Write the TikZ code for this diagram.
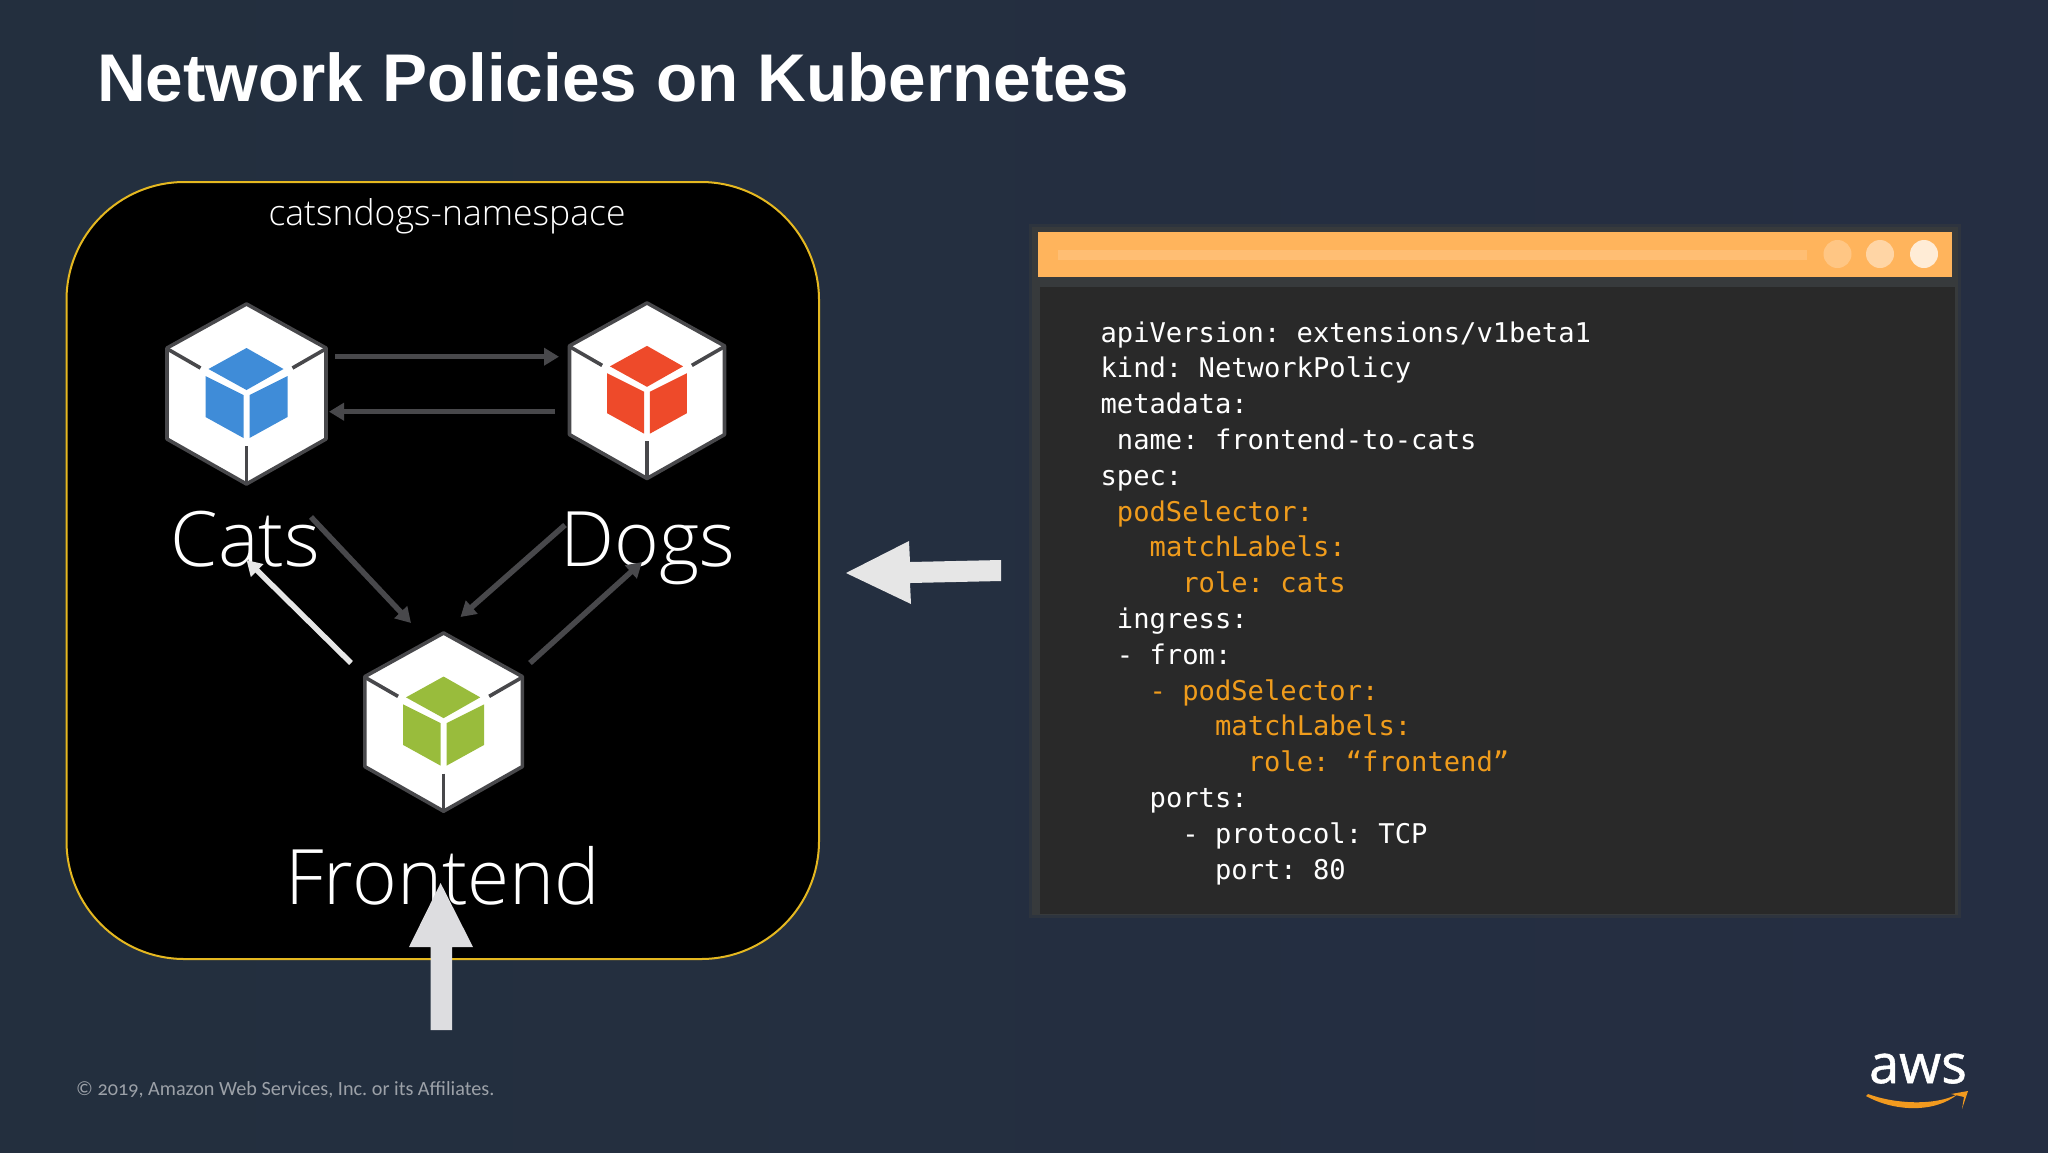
\documentclass[tikz,border=0pt]{standalone}
\usepackage{fontspec}
\setmainfont{Liberation Sans}
\frenchspacing
\newfontfamily\lightf{Open Sans}[UprightFont=* Light]
\newfontfamily\regf{Open Sans}[FakeBold=1]
\newfontfamily\footf{Carlito}[Numbers=OldStyle]
\newfontfamily\codef{DejaVu Sans Mono}
\usetikzlibrary{arrows.meta}
\definecolor{bgl}{HTML}{232F3E}
\definecolor{bgr}{HTML}{252E42}
\definecolor{edge}{HTML}{E5B820}
\definecolor{arrowgray}{HTML}{48484B}
\definecolor{arrowlight}{HTML}{E6E6E6}
\definecolor{bigarrow}{HTML}{DDDDE0}
\definecolor{halo}{HTML}{3A3C3C}
\definecolor{panel}{HTML}{292929}
\definecolor{barorange}{HTML}{FFB45C}
\definecolor{codeorange}{HTML}{F09C1C}
\definecolor{smile}{HTML}{F29A1F}
\definecolor{catblue}{HTML}{3F8CD8}
\definecolor{dogred}{HTML}{EE4A2A}
\definecolor{frontgreen}{HTML}{99BC3C}
\tikzset{
  conn/.style={line width=5.5pt,draw=arrowgray,-{Triangle[length=15pt,width=17pt]}},
  connlight/.style={line width=5.5pt,draw=arrowlight,-{Triangle[length=15pt,width=17pt]}},
  label/.style={text=white,inner sep=0pt,anchor=base,font=\lightf\fontsize{76.5}{76.5}\selectfont},
  code/.style={text=white,inner sep=0pt,anchor=base west,font=\codef\fontsize{27.15}{27.15}\selectfont},
  hexline/.style={draw=arrowgray,line width=3.6pt,line join=round},
}
\newcommand{\hexicon}[4]{%
\begin{scope}[shift={(#1,#2)},scale=#4]
  \filldraw[hexline,fill=white] (0,1) -- (79.5,45) -- (79.5,136) -- (0,181) -- (-79.5,136) -- (-79.5,45) -- cycle;
  \draw[hexline] (-79,46) -- (-46,65);
  \draw[hexline] (79,46) -- (46,65);
  \draw[hexline] (0,143) -- (0,181);
  \fill[#3] (0,45) -- (37,66) -- (0,87) -- (-38,66) -- cycle;
  \fill[#3] (-41,73) -- (-3,92) -- (-3,135) -- (-41,114) -- cycle;
  \fill[#3] (41,73) -- (3,92) -- (3,135) -- (41,114) -- cycle;
\end{scope}}
\begin{document}
\begin{tikzpicture}[x=1pt,y=-1pt]
\useasboundingbox (0,0) rectangle (2048,1152);
\fill[left color=bgl,right color=bgr] (0,0) rectangle (2048,1152);
% title
\node[text=white,inner sep=0pt,anchor=base west,font=\bfseries\fontsize{67.5}{67.5}\selectfont] (title) at (97,101.7) {Network Policies on Kubernetes};
% namespace
\draw[edge,line width=2pt,fill=black,rounded corners=118pt] (66.5,182) rectangle (819,959);
\node[text=white,inner sep=0pt,anchor=base,font=\lightf\fontsize{35.5}{35.5}\selectfont] (ns) at (447,225) {catsndogs-namespace};
% icons
\hexicon{246.5}{303}{catblue}{1}
\hexicon{647}{302}{dogred}{0.975}
\hexicon{443.6}{632}{frontgreen}{0.99}
% labels
\node[label] (cats) at (245.5,566.5) {Cats};
\node[label] (dogs) at (647.5,566.5) {Dogs};
\node[label] (frontend) at (443,904) {Frontend};
% connector ends
\coordinate (c1) at (335,356.7); \coordinate (d1) at (559,356.7);
\coordinate (d2) at (555,411.7); \coordinate (c2) at (329,411.7);
\coordinate (c3) at (311,517);   \coordinate (f3) at (411,623);
\coordinate (d3) at (565,525);   \coordinate (f4) at (460.5,617);
\coordinate (f5) at (530,663);   \coordinate (d5) at (642,562);
\coordinate (f6) at (351,663);   \coordinate (c6) at (246.5,560);
\draw[conn] (c1) -- (d1);
\draw[conn] (d2) -- (c2);
\draw[conn] (c3) -- (f3);
\draw[conn] (d3) -- (f4);
\draw[conn] (f5) -- (d5);
\draw[connlight] (f6) -- (c6);
% big arrows
\fill[bigarrow] (430.6,1030) -- (430.6,947) -- (409,947) -- (440.6,883) -- (473,947) -- (452,947) -- (452,1030) -- cycle;
\fill[arrowlight] (1001,560) -- (910,562) -- (909,541) -- (846,573) -- (911,604) -- (910,583) -- (1001,581) -- cycle;
% window
\fill[halo,opacity=0.45] (1029,224) rectangle (1961,918);
\fill[halo,opacity=0.8] (1032,227) rectangle (1958,915);
\fill[panel] (1040,287) rectangle (1954.5,914);
\fill[barorange] (1038,232) rectangle (1952,277);
\fill[white,opacity=0.14] (1058,250) rectangle (1807,260);
\fill[white,opacity=0.25] (1837.5,254) circle (14);
\fill[white,opacity=0.45] (1880,254) circle (14);
\fill[white,opacity=0.75] (1924,254) circle (14);
% code
\foreach \n/\i/\c/\t in {
 0/0/white/apiVersion: extensions\slash v1beta1,
 1/0/white/kind: NetworkPolicy,
 2/0/white/metadata:,
 3/1/white/name: frontend-to-cats,
 4/0/white/spec:,
 5/1/codeorange/podSelector:,
 6/3/codeorange/matchLabels:,
 7/5/codeorange/role: cats,
 8/1/white/ingress:,
 9/1/white/- from:,
 10/3/codeorange/- podSelector:,
 11/7/codeorange/matchLabels:,
 12/9/codeorange/role: “frontend”,
 13/3/white/ports:,
 14/5/white/- protocol: TCP,
 15/7/white/port: 80}
 {\node[code,text=\c,name=line\n] at ({1100.4+\i*16.35},{342+\n*35.8}) {\t};}
% footer
\node[text=white!55!bgl,inner sep=0pt,anchor=base west,font=\footf\fontsize{20.2}{20.2}\selectfont] (foot) at (76,1095) {© 2019, Amazon Web Services, Inc. or its Affiliates.};
% aws logo
\node[text=white,inner sep=0pt,anchor=base,font=\regf\fontsize{54}{54}\selectfont] (aws) at (1918,1083) {aws};
\fill[smile] (1868,1094) .. controls (1895,1104) and (1935,1106) .. (1958,1094) .. controls (1935,1113) and (1895,1112) .. (1866,1096) -- cycle;
\fill[smile] (1951,1094) -- (1968,1091) -- (1962,1109) -- (1964,1097) -- cycle;
\end{tikzpicture}
\end{document}
